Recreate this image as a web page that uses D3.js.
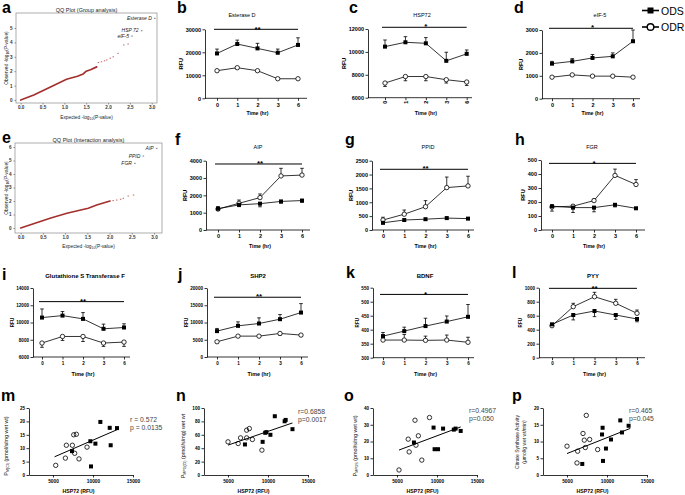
<!DOCTYPE html>
<html><head><meta charset="utf-8">
<script src="https://cdn.jsdelivr.net/npm/d3@7"></script>
<style>body{margin:0;background:#fff}svg{display:block}</style>
</head><body><svg id="c" width="685" height="495"></svg>
<script>
const FF = '"Liberation Sans", Arial, sans-serif';
// ---------- data ----------
const times = ["0","1","2","3","6"];
// b Esterase D
const esteraseD_ODS = [19500,23600,21700,19800,23200];
const esteraseD_ODS_err = [1900,1700,2200,1600,3100];
const esteraseD_ODR = [12000,13300,12000,8500,8500];
const esteraseD_ODR_err = [400,400,400,300,300];
// c HSP72
const hsp72_ODS = [10460,10840,10750,9220,9830];
const hsp72_ODS_err = [580,490,500,750,340];
const hsp72_ODR = [7280,7850,7850,7570,7370];
const hsp72_ODR_err = [300,370,370,290,300];
// d eIF-5
const eif5_ODS = [1530,1630,1780,1850,2510];
const eif5_ODS_err = [100,120,150,150,490];
const eif5_ODR = [940,1040,985,985,940];
const eif5_ODR_err = [40,40,40,40,40];
// f AIP
const aip_ODS = [1230,1450,1520,1650,1700];
const aip_ODS_err = [80,100,180,100,100];
const aip_ODR = [1210,1540,1870,3120,3170];
const aip_ODR_err = [140,190,210,440,390];
// g PPID
const ppid_ODS = [260,360,390,430,410];
const ppid_ODS_err = [40,40,40,30,30];
const ppid_ODR = [360,570,840,1530,1590];
const ppid_ODR_err = [100,150,220,380,350];
// h FGR
const fgr_ODS = [170,160,160,180,155];
const fgr_ODS_err = [35,35,30,15,8];
const fgr_ODR = [165,170,210,390,325];
const fgr_ODR_err = [5,8,10,45,35];
// i Glutathione S Transferase F
const gstf_ODS = [10570,10800,10420,9270,9420];
const gstf_ODS_err = [1000,470,730,540,430];
const gstf_ODR = [7620,8380,8380,7620,7730];
const gstf_ODR_err = [500,460,580,390,500];
// j SHP2
const shp2_ODS = [7500,9030,9710,10960,12880];
const shp2_ODS_err = [770,1160,1640,1340,2600];
const shp2_ODR = [4420,6050,6050,6830,6350];
const shp2_ODR_err = [300,400,400,500,400];
// k BDNF
const bdnf_ODS = [377,395,413,429,446];
const bdnf_ODS_err = [13,14,28,20,44];
const bdnf_ODR = [363,363,362,363,355];
const bdnf_ODR_err = [18,20,15,18,18];
// l PYY
const pyy_ODS = [477,610,667,610,553];
const pyy_ODS_err = [20,70,80,62,40];
const pyy_ODR = [457,729,871,777,634];
const pyy_ODR_err = [15,48,63,57,47];

// QQ plots
const qqGroupLine = [[0,0],[0.3,0.35],[0.67,0.88],[1.05,1.44],[1.3,1.65],[1.43,1.81],[1.5,2.0],[1.6,2.1],[1.74,2.3]];
const qqGroupDots = [[1.78,2.6],[1.85,2.65],[1.92,2.72],[1.97,2.78],[2.05,2.9],[2.12,3.0],[2.23,3.24],[2.36,3.82],[2.46,3.89]];
const qqGroupHits = [[2.55,4.44],[2.77,4.81],[3.07,5.67]];
const qqGroupNames = ["eIF-5","HSP 72","Esterase D"];
const qqInterLine = [[0,0],[0.66,0.72],[1.04,1.09],[1.52,1.46],[1.71,1.7],[2.01,2.0]];
const qqInterDots = [[2.08,2.03],[2.16,2.07],[2.25,2.13],[2.31,2.2],[2.42,2.37],[2.54,2.44]];
const qqInterHits = [[2.57,4.79],[2.76,5.33],[3.06,5.9]];
const qqInterNames = ["FGR","PPID","AIP"];

// scatter (HSP72 RFU vs measure); open = ODR, filled = ODS
const m_open = [[5340,3.6],[6550,6.3],[6670,11.1],[7420,11.1],[7590,15.0],[7920,15.2],[7710,8.1],[8250,6.0],[9250,10.4]];
const m_filled = [[7380,8.9],[9670,12.6],[10300,11.7],[10920,19.8],[12090,17.6],[12210,11.1],[13000,17.5],[9750,3.2]];
const m_fit = [[5200,6.8],[13000,16.9]];
const m_stats = ["r = 0.572","p = 0.0135"];
const n_open = [[5000,49.5],[6270,47],[6570,55.4],[7330,55.4],[7330,66.9],[7670,69.3],[8050,53],[9240,37.1]];
const n_filled = [[7120,45.6],[9330,49.5],[9650,63],[9800,64],[10300,60],[10850,87.7],[12080,80.2],[12210,82.2],[13060,68.4]];
const n_fit = [[5000,44.6],[13060,77.7]];
const n_stats = ["r=0.6858","p=0.0017"];
const o_open = [[5250,3.0],[6400,21.4],[6520,13.8],[7250,32.7],[7670,23.4],[8100,8.9],[9060,34.3],[7370,17.8]];
const o_filled = [[7120,19.4],[9570,28.3],[9700,15.4],[10130,15.4],[10760,27.7],[12100,27.1],[12320,27.7],[12960,26.3]];
const o_fit = [[5250,14.9],[12960,28.7]];
const o_stats = ["r=0.4967","p=0.050"];
const p_open = [[5000,8.6],[6250,3.6],[6330,7.1],[7000,12.4],[7160,10.4],[7410,17.8],[7290,8.2],[7830,10.6],[8830,7.6]];
const p_filled = [[6910,3.3],[9380,12.1],[9450,14.1],[9500,4.2],[9870,7.9],[10500,10.6],[11660,16.3],[11870,12.7],[12700,14.7]];
const p_fit = [[5000,6.4],[12900,13.9]];
const p_stats = ["r=0.465","p=0.045"];

// ---------- drawing ----------
const svg = d3.select("#c");
svg.append("rect").attr("width",685).attr("height",495).attr("fill","#fff");

function txt(g, x, y, s, size, opts={}) {
  const t = g.append("text").attr("x",x).attr("y",y).text(s)
    .style("font-family",FF).style("font-size",size+"px")
    .attr("fill",opts.fill||"#000")
    .attr("text-anchor",opts.anchor||"start");
  if (opts.bold) t.style("font-weight","bold");
  if (opts.italic) t.style("font-style","italic");
  if (opts.rotate) t.attr("transform",`rotate(-90,${x},${y})`);
  return t;
}
function letter(s,x,y){ txt(svg,x,y,s,16,{bold:true}); }

function styleAxis(sel, fs, bold=true){
  sel.selectAll("path,line").attr("stroke","#000").attr("stroke-width",0.8);
  sel.selectAll("text").style("font-family",FF).style("font-size",fs+"px")
     .style("font-weight",bold?"bold":"normal").attr("fill","#000");
}

function linePanel(p){
  const g = svg.append("g");
  const x = d3.scalePoint().domain(times).range([p.x0,p.x1]);
  const y = d3.scaleLinear().domain(p.domain).range([p.yBot,p.yTop]);
  const ticks = d3.range(p.domain[0], p.domain[1]+1e-6, p.step);
  const ya = g.append("g").attr("transform",`translate(${p.ax},0)`)
    .call(d3.axisLeft(y).tickValues(ticks).tickSize(2.5).tickSizeOuter(0).tickPadding(1.5).tickFormat(d3.format("d")));
  styleAxis(ya, p.tfs);
  const xa = g.append("g").attr("transform",`translate(0,${p.yBot})`)
    .call(d3.axisBottom(x).tickSize(2.5).tickSizeOuter(0).tickPadding(2));
  xa.select("path.domain").remove();
  styleAxis(xa, p.tfs);
  if (p.rot) xa.selectAll("text").attr("transform","rotate(-90)").attr("text-anchor","end").attr("x",-3).attr("y",0).attr("dy","0.32em");
  g.append("line").attr("x1",p.ax).attr("x2",p.xEnd).attr("y1",p.yBot).attr("y2",p.yBot).attr("stroke","#000").attr("stroke-width",0.8);
  // labels
  txt(g,p.title[0],p.title[1],p.name,p.titleFs,{anchor:"middle",bold:p.titleBold});
  txt(g,(p.x0+p.x1)/2,p.timeY,"Time (hr)",p.timeFs,{anchor:"middle",bold:true});
  const bb = ya.node().getBBox();
  txt(g,p.ax + bb.x - 2.5,(p.yBot+p.yTop)/2,"RFU",p.tfs,{anchor:"middle",bold:true,rotate:true});
  // significance
  const sy = y(p.sigLevel);
  g.append("line").attr("x1",p.x0-3).attr("x2",p.x1).attr("y1",sy).attr("y2",sy).attr("stroke","#000").attr("stroke-width",1);
  txt(g,(p.x0+p.x1)/2,sy+2.2,p.sig,8,{anchor:"middle",bold:true});
  const series = [
    {v:p.odr, e:p.odrErr, dir:p.odrDir, filled:false},
    {v:p.ods, e:p.odsErr, dir:p.odsDir, filled:true}
  ];
  const line = d3.line().x((d,i)=>x(times[i])).y(d=>y(d));
  series.forEach(s=>{
    g.append("path").attr("d",line(s.v)).attr("fill","none").attr("stroke","#000").attr("stroke-width",0.8);
    s.v.forEach((v,i)=>{
      const xe = x(times[i]), y1 = y(v), y2 = y(v + s.dir*s.e[i]);
      g.append("line").attr("x1",xe).attr("x2",xe).attr("y1",y1).attr("y2",y2).attr("stroke","#000").attr("stroke-width",0.8);
      g.append("line").attr("x1",xe-1.8).attr("x2",xe+1.8).attr("y1",y2).attr("y2",y2).attr("stroke","#000").attr("stroke-width",0.8);
    });
  });
  series.forEach(s=>{
    s.v.forEach((v,i)=>{
      if (s.filled) g.append("rect").attr("x",x(times[i])-2).attr("y",y(v)-2).attr("width",4).attr("height",4).attr("fill","#000");
      else g.append("circle").attr("cx",x(times[i])).attr("cy",y(v)).attr("r",2.2).attr("fill","#fff").attr("stroke","#000").attr("stroke-width",0.8);
    });
  });
}

const row1 = {tfs:5.5,titleFs:5.5,timeFs:5.2,titleBold:false};
const row2 = {tfs:5.5,titleFs:5.5,timeFs:5.2,titleBold:false};
const row3 = {tfs:4.6,titleFs:6,timeFs:5.4,titleBold:true};

linePanel({...row1,name:"Esterase D",ax:205,x0:217,x1:298,xEnd:307,yBot:98.3,yTop:29.3,domain:[0,30000],step:10000,title:[242,17],timeY:115,
  ods:esteraseD_ODS,odsErr:esteraseD_ODS_err,odsDir:1,odr:esteraseD_ODR,odrErr:esteraseD_ODR_err,odrDir:-1,sig:"**",sigLevel:30000});
linePanel({...row1,name:"HSP72",ax:368,x0:385,x1:466.7,xEnd:472,yBot:97.7,yTop:29,domain:[6000,12000],step:2000,title:[422,17],timeY:115,rot:true,
  ods:hsp72_ODS,odsErr:hsp72_ODS_err,odsDir:1,odr:hsp72_ODR,odrErr:hsp72_ODR_err,odrDir:-1,sig:"*",sigLevel:12150});
linePanel({...row1,name:"eIF-5",ax:542,x0:552,x1:633,xEnd:640,yBot:98.7,yTop:30,domain:[0,3000],step:1000,title:[600,17],timeY:115,
  ods:eif5_ODS,odsErr:eif5_ODS_err,odsDir:1,odr:eif5_ODR,odrErr:eif5_ODR_err,odrDir:-1,sig:"*",sigLevel:3075});
linePanel({...row2,name:"AIP",ax:206,x0:218,x1:302,xEnd:310,yBot:230,yTop:160.7,domain:[0,4000],step:1000,title:[258,149],timeY:248,
  ods:aip_ODS,odsErr:aip_ODS_err,odsDir:-1,odr:aip_ODR,odrErr:aip_ODR_err,odrDir:1,sig:"**",sigLevel:3810});
linePanel({...row2,name:"PPID",ax:372,x0:383,x1:468,xEnd:474,yBot:230,yTop:160.7,domain:[0,2500],step:500,title:[428,149],timeY:248,
  ods:ppid_ODS,odsErr:ppid_ODS_err,odsDir:-1,odr:ppid_ODR,odrErr:ppid_ODR_err,odrDir:1,sig:"**",sigLevel:2190});
linePanel({...row2,name:"FGR",ax:541,x0:552,x1:636,xEnd:645,yBot:230,yTop:160,domain:[0,500],step:100,title:[592,149],timeY:248,
  ods:fgr_ODS,odsErr:fgr_ODS_err,odsDir:-1,odr:fgr_ODR,odrErr:fgr_ODR_err,odrDir:1,sig:"*",sigLevel:476});
linePanel({...row3,name:"Glutathione S Transferase F",ax:33,x0:42,x1:124,xEnd:130,yBot:357,yTop:288,domain:[6000,14000],step:2000,title:[85,278],timeY:376,
  ods:gstf_ODS,odsErr:gstf_ODS_err,odsDir:1,odr:gstf_ODR,odrErr:gstf_ODR_err,odrDir:-1,sig:"**",sigLevel:12420});
linePanel({...row3,name:"SHP2",ax:207,x0:217,x1:301,xEnd:308,yBot:357,yTop:288,domain:[0,20000],step:5000,title:[258,278],timeY:376,
  ods:shp2_ODS,odsErr:shp2_ODS_err,odsDir:1,odr:shp2_ODR,odrErr:shp2_ODR_err,odrDir:-1,sig:"**",sigLevel:17320});
linePanel({...row3,name:"BDNF",ax:373,x0:383,x1:468,xEnd:474,yBot:357.7,yTop:287.7,domain:[300,550],step:50,title:[425,278],timeY:376,
  ods:bdnf_ODS,odsErr:bdnf_ODS_err,odsDir:1,odr:bdnf_ODR,odrErr:bdnf_ODR_err,odrDir:1,sig:"*",sigLevel:526});
linePanel({...row3,name:"PYY",ax:539,x0:552,x1:637,xEnd:645,yBot:357.7,yTop:287.7,domain:[0,1000],step:200,title:[593,278],timeY:376,
  ods:pyy_ODS,odsErr:pyy_ODS_err,odsDir:-1,odr:pyy_ODR,odrErr:pyy_ODR_err,odrDir:1,sig:"**",sigLevel:991});

// legend
(function(){
  const g = svg.append("g");
  g.append("line").attr("x1",642).attr("x2",659).attr("y1",10.5).attr("y2",10.5).attr("stroke","#000").attr("stroke-width",1.6);
  g.append("rect").attr("x",647.5).attr("y",7.5).attr("width",6).attr("height",6).attr("fill","#000");
  txt(g,661,14.5,"ODS",10.5);
  g.append("line").attr("x1",642).attr("x2",659).attr("y1",27).attr("y2",27).attr("stroke","#000").attr("stroke-width",1.6);
  g.append("circle").attr("cx",650.5).attr("cy",27).attr("r",3.3).attr("fill","#fff").attr("stroke","#000").attr("stroke-width",1.4);
  txt(g,661,31,"ODR",10.5);
})();

// QQ plots
function qqPanel(p){
  const g = svg.append("g");
  const x = d3.scaleLinear().domain([0,3]).range([p.xa,p.xb]);
  const y = d3.scaleLinear().domain([0,p.ymaxTick]).range([p.y0,p.y0 - p.ymaxTick*p.ppu]);
  g.append("rect").attr("x",p.bx0).attr("y",p.by0).attr("width",p.bx1-p.bx0).attr("height",p.by1-p.by0)
    .attr("fill","none").attr("stroke","#8a8a8a").attr("stroke-width",0.7);
  const xa = g.append("g").attr("transform",`translate(0,${p.by1})`)
    .call(d3.axisBottom(x).tickValues([0,0.5,1,1.5,2,2.5,3]).tickFormat(d3.format(".1f")).tickSize(1.5).tickSizeOuter(0).tickPadding(1.5));
  xa.select("path.domain").remove();
  styleAxis(xa,4.6); xa.selectAll("line").attr("stroke","#777"); xa.selectAll("text").attr("fill","#333");
  const ya = g.append("g").attr("transform",`translate(${p.bx0},0)`)
    .call(d3.axisLeft(y).tickValues(d3.range(0,p.ymaxTick+1)).tickFormat(d3.format("d")).tickSize(1.5).tickSizeOuter(0).tickPadding(2));
  ya.select("path.domain").remove();
  styleAxis(ya,4.6); ya.selectAll("line").attr("stroke","#777"); ya.selectAll("text").attr("fill","#333");
  txt(g,(p.bx0+p.bx1)/2,p.titleY,p.title,5.5,{anchor:"middle",fill:"#222"});
  const xl = txt(g,(p.bx0+p.bx1)/2,p.xlabY,"Expected  -log",4.8,{anchor:"middle",fill:"#222"});
  xl.append("tspan").attr("dy",1.2).style("font-size","3.4px").text("10");
  xl.append("tspan").attr("dy",-1.2).text("(P-value)");
  const yl = txt(g,p.ylabX,(p.by0+p.by1)/2,"Observed  -log",4.8,{anchor:"middle",fill:"#222",rotate:true});
  yl.append("tspan").attr("dy",1.2).style("font-size","3.4px").text("10");
  yl.append("tspan").attr("dy",-1.2).text("(P-value)");
  g.append("path").attr("d",d3.line().x(d=>x(d[0])).y(d=>y(d[1]))(p.line))
    .attr("fill","none").attr("stroke","#a3302e").attr("stroke-width",1.7).attr("stroke-linecap","round");
  p.dots.forEach(d=>{
    g.append("line").attr("x1",x(d[0])-0.7).attr("x2",x(d[0])+0.7).attr("y1",y(d[1])).attr("y2",y(d[1])).attr("stroke","#b05050").attr("stroke-width",0.9);
  });
  p.hits.forEach((d,i)=>{
    g.append("line").attr("x1",x(d[0])-0.8).attr("x2",x(d[0])+0.8).attr("y1",y(d[1])).attr("y2",y(d[1])).attr("stroke","#444").attr("stroke-width",0.7);
    txt(g,x(d[0])-3,y(d[1])+1.7,p.names[i],5,{anchor:"end",italic:true,fill:"#222"});
  });
}
qqPanel({xa:20.7,xb:151.7,y0:100,ppu:14.4,ymaxTick:5,bx0:16,bx1:157,by0:13,by1:103,title:"QQ Plot (Group analysis)",titleY:11.5,xlabY:118.5,ylabX:8,
  line:qqGroupLine,dots:qqGroupDots,hits:qqGroupHits,names:qqGroupNames});
qqPanel({xa:20.7,xb:154,y0:228,ppu:13.5,ymaxTick:6,bx0:15,bx1:162,by0:143,by1:233,title:"QQ Plot (Interaction analysis)",titleY:141.5,xlabY:247.5,ylabX:8,
  line:qqInterLine,dots:qqInterDots,hits:qqInterHits,names:qqInterNames});

// scatter panels
function scatterPanel(p){
  const g = svg.append("g");
  const x = d3.scaleLinear().domain([2000,15000]).range([p.x0,p.x1]);
  const y = d3.scaleLinear().domain([0,p.ymax]).range([475,408]);
  const ya = g.append("g").attr("transform",`translate(${p.x0},0)`)
    .call(d3.axisLeft(y).tickValues(d3.range(0,p.ymax+1e-6,p.ystep)).tickFormat(d3.format("d")).tickSize(2.5).tickSizeOuter(0).tickPadding(1.5));
  styleAxis(ya,4.6);
  const xa = g.append("g").attr("transform",`translate(0,475)`)
    .call(d3.axisBottom(x).tickValues([5000,10000,15000]).tickFormat(d3.format("d")).tickSize(2.5).tickSizeOuter(0).tickPadding(2));
  styleAxis(xa,4.8);
  txt(g,x(8200),493,"HSP72 (RFU)",5.2,{anchor:"middle",bold:true});
  // y label
  if (p.ylab2) {
    txt(g,p.ylx,442,p.ylab,5,{anchor:"middle",rotate:true,fill:"#111"});
    txt(g,p.ylx+7,442,p.ylab2,5,{anchor:"middle",rotate:true,fill:"#111"});
  } else {
    const t = txt(g,p.ylx,446,"P",5.4,{anchor:"middle",rotate:true,fill:"#111"});
    t.append("tspan").attr("dy",1.2).style("font-size","3.6px").text(p.sub);
    t.append("tspan").attr("dy",-1.2).text(" "+p.ylab);
  }
  g.append("path").attr("d",d3.line().x(d=>x(d[0])).y(d=>y(d[1]))(p.fit)).attr("stroke","#000").attr("stroke-width",1).attr("fill","none");
  p.open.forEach(d=>g.append("circle").attr("cx",x(d[0])).attr("cy",y(d[1])).attr("r",2.2).attr("fill","none").attr("stroke","#000").attr("stroke-width",0.8));
  p.filled.forEach(d=>g.append("rect").attr("x",x(d[0])-2).attr("y",y(d[1])-2).attr("width",4).attr("height",4).attr("fill","#000"));
  txt(g,p.sx,p.sy,p.stats[0],6.8,{fill:"#444"});
  txt(g,p.sx,p.sy+8,p.stats[1],6.8,{fill:"#444"});
}
scatterPanel({x0:29,x1:133,ymax:25,ystep:5,open:m_open,filled:m_filled,fit:m_fit,stats:m_stats,sx:130,sy:422,ylx:8,sub:"M(CI)",ylab:"(pmol/s/mg wet wt)"});
scatterPanel({x0:204,x1:308,ymax:100,ystep:20,open:n_open,filled:n_filled,fit:n_fit,stats:n_stats,sx:298,sy:414,ylx:185,sub:"MPG(CI)",ylab:"(pmol/s/mg) wet wt"});
scatterPanel({x0:373,x1:477,ymax:40,ystep:10,open:o_open,filled:o_filled,fit:o_fit,stats:o_stats,sx:469,sy:413,ylx:357,sub:"MPGS",ylab:"(pmol/s/mg wet wt)"});
scatterPanel({x0:543,x1:647,ymax:20,ystep:5,open:p_open,filled:p_filled,fit:p_fit,stats:p_stats,sx:629,sy:413,ylx:519,ylab:"Citrate Synthase Activity",ylab2:"(\u00b5mol/g wet wt/min)"});

// panel letters
[["a",2,13],["b",177,13],["c",349,13],["d",514,13],["e",2,143],["f",175,145],["g",345,145],["h",515,145],
 ["i",2,280],["j",178,280],["k",346,278],["l",512,278],["m",1,401],["n",176,401],["o",344,401],["p",512,401]]
 .forEach(d=>letter(d[0],d[1],d[2]));
</script></body></html>
